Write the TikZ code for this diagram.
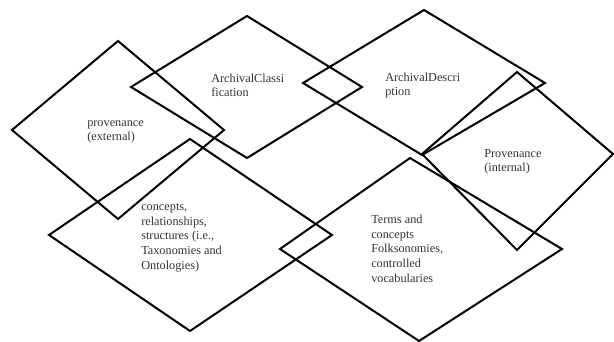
\documentclass[tikz,border=0pt]{standalone}
\usepackage{fontspec}
\setmainfont{Liberation Serif}
\begin{document}
\begin{tikzpicture}[x=0.75pt,y=-0.75pt,
  rhomb/.style={draw=black,line width=1.5pt,line join=miter},
  lbl/.style={anchor=base west,inner sep=0pt,align=left,text=black!80,font=\fontsize{9.2}{10.9}\selectfont}]
\useasboundingbox (0,0) rectangle (614,342);
% diamonds
\draw[rhomb] (118,41) -- (224,130) -- (118,219) -- (12,130) -- cycle;
\draw[rhomb] (247,16) -- (362,87) -- (247,158) -- (131,87) -- cycle;
\draw[rhomb] (424,10) -- (545,83) -- (422,155) -- (303,83) -- cycle;
\draw[rhomb] (517,72) -- (613,154) -- (517,250) -- (422,154) -- cycle;
\draw[rhomb] (190,139) -- (332,235) -- (190,331) -- (49,235) -- cycle;
\draw[rhomb] (410,158) -- (562,249) -- (419,341) -- (280,249) -- cycle;
% labels (anchored at the baseline of the last line)
\node[lbl] (provext) at (87,141) {provenance\\(external)};
\node[lbl] (aclass) at (211,97) {ArchivalClassi\\fication};
\node[lbl] (adesc) at (385,96) {ArchivalDescri\\ption};
\node[lbl] (provint) at (484,172) {Provenance\\(internal)};
\node[lbl] (concepts) at (141,269) {concepts,\\relationships,\\structures (i.e.,\\Taxonomies and\\Ontologies)};
\node[lbl] (terms) at (371,282) {Terms and\\concepts\\Folksonomies,\\controlled\\vocabularies};
\end{tikzpicture}
\end{document}
